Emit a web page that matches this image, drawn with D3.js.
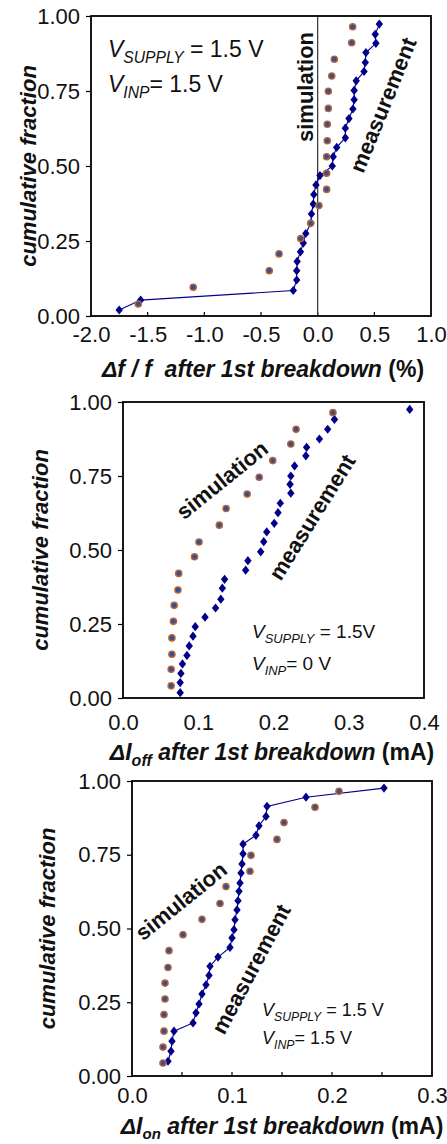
<!DOCTYPE html>
<html>
<head>
<meta charset="utf-8">
<script src="https://cdn.jsdelivr.net/npm/d3@7/dist/d3.min.js"></script>
<style>
  html, body { margin: 0; padding: 0; background: #ffffff; }
  svg { display: block; font-family: "Liberation Sans", Arial, sans-serif; }
</style>
</head>
<body>
<svg id="chart" width="447" height="1144"></svg>
<script>
// ---------- data ----------
const yTicks = [0, 0.25, 0.5, 0.75, 1];
const yTickLabels = ["0.00", "0.25", "0.50", "0.75", "1.00"];

// Panel 1: delta f / f (%)
const p1XTicks = [-2, -1.5, -1, -0.5, 0, 0.5, 1];
const p1XTickLabels = ["-2.0", "-1.5", "-1.0", "-0.5", "0.0", "0.5", "1.0"];
const p1MeasX = [-1.751,-1.562,-0.215,-0.185,-0.185,-0.181,-0.152,-0.127,-0.105,-0.059,-0.055,-0.039,-0.034,-0.015,0.020,0.129,0.137,0.168,0.244,0.244,0.276,0.311,0.322,0.322,0.340,0.409,0.420,0.426,0.514,0.508,0.544];
const p1MeasY = [0.020,0.053,0.085,0.120,0.151,0.182,0.214,0.243,0.275,0.310,0.340,0.373,0.405,0.437,0.468,0.500,0.531,0.562,0.594,0.626,0.658,0.690,0.721,0.752,0.784,0.815,0.845,0.878,0.909,0.939,0.973];
const p1SimX = [-1.583,-1.098,-0.427,-0.341,-0.150,-0.062,0.011,0.079,0.079,0.079,0.085,0.085,0.094,0.094,0.124,0.147,0.300,0.309];
const p1SimY = [0.040,0.096,0.151,0.207,0.258,0.309,0.368,0.422,0.476,0.531,0.584,0.639,0.692,0.749,0.800,0.856,0.911,0.964];

// Panel 2: delta I_off (mA)
const p2XTicks = [0, 0.1, 0.2, 0.3, 0.4];
const p2XTickLabels = ["0.0", "0.1", "0.2", "0.3", "0.4"];
const p2MeasX = [0.076,0.076,0.077,0.079,0.085,0.088,0.093,0.096,0.109,0.123,0.130,0.132,0.135,0.163,0.166,0.183,0.187,0.191,0.201,0.206,0.209,0.223,0.222,0.223,0.228,0.243,0.244,0.261,0.272,0.281,0.381];
const p2MeasY = [0.018,0.052,0.083,0.115,0.144,0.176,0.209,0.241,0.273,0.304,0.334,0.371,0.401,0.432,0.464,0.494,0.528,0.561,0.590,0.626,0.658,0.692,0.722,0.750,0.784,0.818,0.847,0.875,0.908,0.941,0.975];
const p2SimX = [0.064,0.064,0.065,0.065,0.067,0.068,0.073,0.074,0.095,0.101,0.128,0.137,0.165,0.181,0.199,0.223,0.230,0.279];
const p2SimY = [0.041,0.097,0.148,0.203,0.259,0.313,0.365,0.421,0.477,0.527,0.584,0.640,0.689,0.746,0.802,0.858,0.908,0.964];

// Panel 3: delta I_on (mA)
const p3XTicks = [0, 0.1, 0.2, 0.3];
const p3XTickLabels = ["0.0", "0.1", "0.2", "0.3"];
const p3XMinorTicks = [0.05, 0.1, 0.15, 0.2, 0.25];
const p3MeasX = [0.036,0.039,0.040,0.042,0.061,0.064,0.067,0.070,0.074,0.077,0.078,0.086,0.098,0.100,0.102,0.103,0.105,0.106,0.107,0.108,0.109,0.110,0.111,0.111,0.124,0.127,0.134,0.135,0.174,0.252];
const p3MeasY = [0.050,0.084,0.118,0.152,0.180,0.214,0.244,0.278,0.309,0.341,0.372,0.403,0.436,0.468,0.496,0.530,0.563,0.594,0.626,0.654,0.688,0.719,0.753,0.786,0.816,0.848,0.880,0.914,0.945,0.976];
const p3SimX = [0.031,0.031,0.032,0.032,0.033,0.033,0.036,0.037,0.051,0.070,0.088,0.094,0.118,0.119,0.145,0.152,0.183,0.207];
const p3SimY = [0.044,0.098,0.152,0.208,0.261,0.315,0.368,0.425,0.479,0.531,0.585,0.642,0.694,0.748,0.802,0.859,0.911,0.965];

// ---------- style ----------
const MEAS_COLOR = "#00008b";
const SIM_FILL = "#2c52a0";
const SIM_STROKE = "#c2622a";
const FONT = "'Liberation Sans', Arial, sans-serif";

const svg = d3.select("#chart");

const diamond = {
  draw(ctx, size) {
    const w = 3.7, h = 4.6;
    ctx.moveTo(0, -h); ctx.lineTo(w, 0); ctx.lineTo(0, h); ctx.lineTo(-w, 0); ctx.closePath();
  }
};

function panel(cfg) {
  const g = svg.append("g");
  const x = d3.scaleLinear().domain(cfg.xDomain).range([cfg.left, cfg.right]);
  const y = d3.scaleLinear().domain([0, 1]).range([cfg.bottom, cfg.top]);

  // y axis (outward ticks, labels)
  const yAxis = d3.axisLeft(y).tickValues(yTicks).tickSize(5).tickPadding(6)
    .tickFormat((d, i) => yTickLabels[i]);
  const ya = g.append("g").attr("transform", `translate(${cfg.left},0)`).call(yAxis);
  ya.select(".domain").remove();
  ya.selectAll("line").attr("stroke", "#000").attr("stroke-width", 1.2);
  ya.selectAll("text").attr("font-family", FONT).attr("font-size", 22).attr("fill", "#111");

  // x axis labels (inward ticks drawn separately)
  const xAxis = d3.axisBottom(x).tickValues(cfg.xTicks).tickSize(0).tickPadding(0)
    .tickFormat((d, i) => cfg.xTickLabels[i]);
  const xa = g.append("g").attr("transform", `translate(0,${cfg.bottom})`).call(xAxis);
  xa.select(".domain").remove();
  xa.selectAll("line").remove();
  xa.selectAll("text").attr("font-family", FONT).attr("font-size", 22).attr("fill", "#111")
    .attr("dy", null).attr("y", cfg.xLabelOffset);
  if (cfg.innerTicks) {
    g.append("g").selectAll("line").data(cfg.innerTicks).join("line")
      .attr("x1", d => x(d)).attr("x2", d => x(d))
      .attr("y1", cfg.bottom).attr("y2", cfg.bottom - 4)
      .attr("stroke", "#000").attr("stroke-width", 1.2);
  }

  // zero line
  if (cfg.zeroLine) {
    g.append("line").attr("x1", x(0)).attr("x2", x(0)).attr("y1", cfg.top).attr("y2", cfg.bottom)
      .attr("stroke", "#333").attr("stroke-width", 1.2);
  }

  // frame
  g.append("rect").attr("x", cfg.left).attr("y", cfg.top)
    .attr("width", cfg.right - cfg.left).attr("height", cfg.bottom - cfg.top)
    .attr("fill", "none").attr("stroke", "#000").attr("stroke-width", 1.8);

  const meas = cfg.measX.map((v, i) => [v, cfg.measY[i]]);
  const sim = cfg.simX.map((v, i) => [v, cfg.simY[i]]);

  if (cfg.connect) {
    g.append("path").datum(meas)
      .attr("d", d3.line().x(d => x(d[0])).y(d => y(d[1])))
      .attr("fill", "none").attr("stroke", MEAS_COLOR).attr("stroke-width", 1.1);
  }
  g.append("g").selectAll("path").data(meas).join("path")
    .attr("d", d3.symbol().type(diamond).size(40))
    .attr("transform", d => `translate(${x(d[0])},${y(d[1])})`)
    .attr("fill", MEAS_COLOR);
  g.append("g").selectAll("circle").data(sim).join("circle")
    .attr("cx", d => x(d[0])).attr("cy", d => y(d[1])).attr("r", 3.1)
    .attr("fill", SIM_FILL).attr("stroke", SIM_STROKE).attr("stroke-width", 1.4);

  // y title
  g.append("text").attr("transform", `translate(${cfg.yTitleX},${(cfg.top + cfg.bottom) / 2}) rotate(-90)`)
    .attr("text-anchor", "middle").attr("font-family", FONT).attr("font-size", 22)
    .attr("font-weight", "bold").attr("font-style", "italic").attr("fill", "#111")
    .text("cumulative fraction");

  // series labels
  cfg.labels.forEach(l => {
    g.append("text").attr("transform", `translate(${l.x},${l.y}) rotate(${l.rot})`)
      .attr("text-anchor", "middle").attr("dy", l.dy)
      .attr("font-family", FONT).attr("font-size", 22).attr("font-weight", "bold").attr("fill", "#111")
      .text(l.text);
  });

  // annotation
  const ann = g.append("g").attr("font-family", FONT).attr("fill", "#111");
  cfg.annotation.forEach((line, i) => {
    const t = ann.append("text").attr("x", cfg.annX).attr("y", cfg.annY + i * cfg.annGap)
      .attr("font-size", cfg.annSize);
    t.append("tspan").attr("font-style", "italic").text("V");
    t.append("tspan").attr("font-style", "italic").attr("font-size", cfg.annSize * 0.68)
      .attr("dy", cfg.annSize * 0.25).text(line.sub);
    t.append("tspan").attr("dy", -cfg.annSize * 0.25).text(line.rest);
  });

  // x title
  const xt = g.append("text").attr("x", cfg.titleX).attr("y", cfg.titleY)
    .attr("text-anchor", "middle").attr("font-family", FONT).attr("font-size", 23)
    .attr("font-weight", "bold").attr("fill", "#111");
  cfg.title(xt);
}

panel({
  left: 91, right: 431, top: 16, bottom: 316,
  xDomain: [-2, 1], xTicks: p1XTicks, xTickLabels: p1XTickLabels, xLabelOffset: 26,
  innerTicks: [-1.5, -1, -0.5, 0, 0.5], zeroLine: true, connect: true,
  measX: p1MeasX, measY: p1MeasY, simX: p1SimX, simY: p1SimY,
  yTitleX: 36,
  labels: [
    { text: "simulation", x: 313, y: 87, rot: -90, dy: 0 },
    { text: "measurement", x: 383, y: 105, rot: -68, dy: "0.35em" }
  ],
  annotation: [{ sub: "SUPPLY", rest: " = 1.5 V" }, { sub: "INP", rest: "= 1.5 V" }],
  annX: 108, annY: 57, annGap: 35, annSize: 23,
  titleX: 263, titleY: 377,
  title: t => {
    t.append("tspan").attr("font-style", "italic").text("\u0394f / f\u00a0 after 1st breakdown");
    t.append("tspan").text(" (%)");
  }
});

panel({
  left: 123, right: 424, top: 402, bottom: 698,
  xDomain: [0, 0.4], xTicks: p2XTicks, xTickLabels: p2XTickLabels, xLabelOffset: 32,
  innerTicks: null, zeroLine: false, connect: false,
  measX: p2MeasX, measY: p2MeasY, simX: p2SimX, simY: p2SimY,
  yTitleX: 48,
  labels: [
    { text: "simulation", x: 222, y: 480, rot: -39, dy: "0.35em" },
    { text: "measurement", x: 312, y: 517, rot: -58, dy: "0.35em" }
  ],
  annotation: [{ sub: "SUPPLY", rest: " = 1.5V" }, { sub: "INP", rest: "= 0 V" }],
  annX: 252, annY: 638, annGap: 32, annSize: 19,
  titleX: 272, titleY: 760,
  title: t => {
    t.append("tspan").attr("font-style", "italic").text("\u0394I");
    t.append("tspan").attr("font-style", "italic").attr("font-size", 16).attr("dy", 6).text("off");
    t.append("tspan").attr("font-style", "italic").attr("dy", -6).text(" after 1st breakdown");
    t.append("tspan").text(" (mA)");
  }
});

panel({
  left: 132, right: 432, top: 781, bottom: 1076,
  xDomain: [0, 0.3], xTicks: p3XTicks, xTickLabels: p3XTickLabels, xLabelOffset: 27,
  innerTicks: p3XMinorTicks, zeroLine: false, connect: true,
  measX: p3MeasX, measY: p3MeasY, simX: p3SimX, simY: p3SimY,
  yTitleX: 55,
  labels: [
    { text: "simulation", x: 181, y: 901, rot: -39, dy: "0.35em" },
    { text: "measurement", x: 251, y: 969, rot: -62, dy: "0.35em" }
  ],
  annotation: [{ sub: "SUPPLY", rest: " = 1.5 V" }, { sub: "INP", rest: "= 1.5 V" }],
  annX: 262, annY: 1016, annGap: 28, annSize: 18,
  titleX: 282, titleY: 1134,
  title: t => {
    t.append("tspan").attr("font-style", "italic").text("\u0394I");
    t.append("tspan").attr("font-style", "italic").attr("font-size", 15).attr("dy", 5).text("on");
    t.append("tspan").attr("font-style", "italic").attr("dy", -5).text(" after 1st breakdown");
    t.append("tspan").text(" (mA)");
  }
});
</script>
</body>
</html>
